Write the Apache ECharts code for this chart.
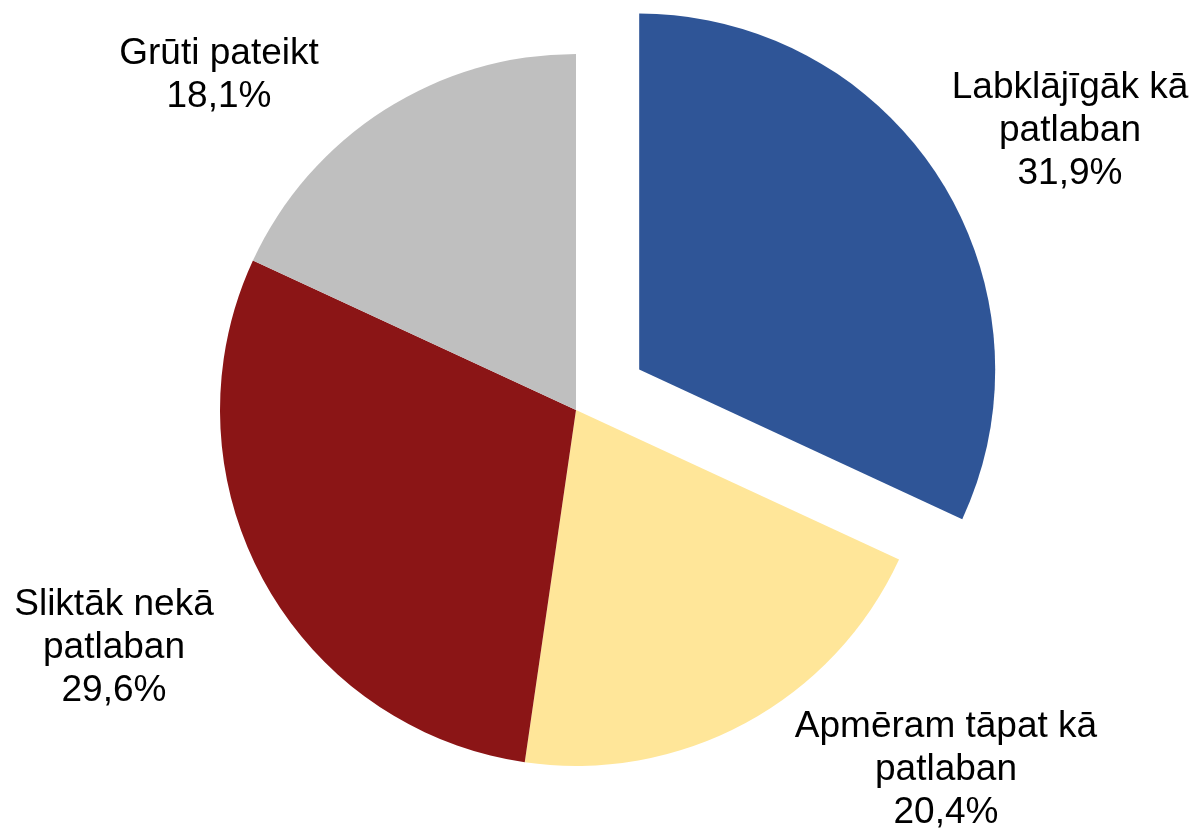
<!DOCTYPE html>
<html>
	<head>
		<meta charset="UTF-8">
		<title>Pie</title>
		<script src="https://cdn.jsdelivr.net/npm/echarts@6/dist/echarts.min.js"></script>
		<style>
			html, body { margin: 0; padding: 0; background: #fff; }
			#main { width: 1192px; height: 829px; }
		</style>
	</head>
	<body>
		<div id="main"></div>
		<script type="text/javascript">
			// dati
			var categories = ['Labklājīgāk kā\npatlaban', 'Apmēram tāpat kā\npatlaban', 'Sliktāk nekā\npatlaban', 'Grūti pateikt'];
			var values = [31.9, 20.4, 29.6, 18.1];
			var colors = ['#2F5597', '#FFE699', '#8B1516', '#BFBFBF'];
			var explodeIndex = 0;

			// label centres (px)
			var labelPos = [[1070, 131], [946, 770], [114, 648], [219, 75]];

			var center = [576, 410];
			var explodeDist = 75;

			// mid angle of exploded slice (from 12 o'clock, clockwise)
			var total = 0, before = 0;
			for (var i = 0; i < values.length; i++) {
				total += values[i];
				if (i < explodeIndex) before += values[i];
			}
			var mid = (before + values[explodeIndex] / 2) / total * 2 * Math.PI;
			var center2 = [center[0] + explodeDist * Math.sin(mid), center[1] - explodeDist * Math.cos(mid)];

			var myChart = echarts.init(document.getElementById('main'));

			function makeData(visible) {
				var arr = [];
				for (var i = 0; i < values.length; i++) {
					var show = visible(i);
					arr.push({
						value: values[i],
						name: categories[i],
						itemStyle: { color: show ? colors[i] : 'rgba(0,0,0,0)' },
						label: { show: show }
					});
				}
				return arr;
			}

			var labelStyle = {
				show: true,
				position: 'outside',
				overflow: 'none',
				fontFamily: 'Liberation Sans, Arial, sans-serif',
				fontSize: 37,
				lineHeight: 43,
				color: '#000',
				align: 'center',
				formatter: function (p) {
					return p.name + '\n' + p.value.toFixed(1).replace('.', ',') + '%';
				}
			};

			function layout(p) {
				var pos = labelPos[p.dataIndex];
				return { x: pos[0], y: pos[1], align: 'center', verticalAlign: 'middle' };
			}

			var option = {
				animation: false,
				series: [
					{
						type: 'pie',
						center: center,
						radius: 356,
						startAngle: 90,
						clockwise: true,
						silent: true,
						label: labelStyle,
						labelLine: { show: false },
						labelLayout: layout,
						data: makeData(function (i) { return i !== explodeIndex; })
					},
					{
						type: 'pie',
						center: center2,
						radius: 356,
						startAngle: 90,
						clockwise: true,
						silent: true,
						label: labelStyle,
						labelLine: { show: false },
						labelLayout: layout,
						data: makeData(function (i) { return i === explodeIndex; })
					}
				]
			};

			myChart.setOption(option);
		</script>
	</body>
</html>
